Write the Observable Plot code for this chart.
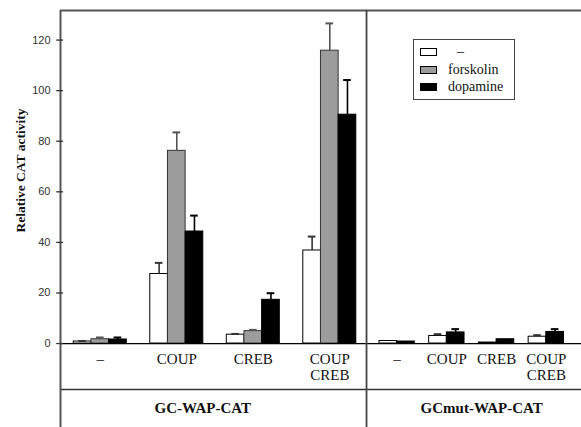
<!DOCTYPE html>
<html>
<head>
<meta charset="utf-8">
<script src="https://cdn.jsdelivr.net/npm/d3@7"></script>
<script src="https://cdn.jsdelivr.net/npm/@observablehq/plot@0.6"></script>
<style>
  html, body { margin: 0; padding: 0; background: #fff; }
  #wrap { position: relative; width: 581px; height: 427px; }
  #legend { position: absolute; left: 413px; top: 39px; width: 100px; height: 59px;
    border: 1.5px solid #444; background: #fff; font-family: "Liberation Serif", "Times New Roman", serif; font-size: 14px; color: #111; }
  .row { position: absolute; left: 0; height: 17px; display: flex; align-items: center; }
  .sw { position: absolute; left: 6px; width: 15px; height: 6px; border: 1px solid #000; }
  .lb { position: absolute; left: 34px; white-space: nowrap; line-height: 17px; }
</style>
</head>
<body>
<div id="wrap"></div>
<script>
// ---- data ----
const categories = ["–", "COUP", "CREB", "COUP\nCREB"];
const constructs = ["GC-WAP-CAT", "GCmut-WAP-CAT"];
const treatments = ["–", "forskolin", "dopamine"];
const treatmentColors = ["#ffffff", "#9c9c9c", "#000000"];
const yTicks = [0, 20, 40, 60, 80, 100, 120];

// GC-WAP-CAT (means and standard errors)
const gcControl   = [0.8, 27.5, 3.5, 36.8];
const gcControlSE = [0.2, 4.4, 0.3, 5.5];
const gcForskolin   = [1.7, 76.2, 4.9, 115.8];
const gcForskolinSE = [0.7, 7.3, 0.5, 10.8];
const gcDopamine   = [1.6, 44.3, 17.3, 90.5];
const gcDopamineSE = [0.8, 6.3, 2.6, 13.7];

// GCmut-WAP-CAT (no forskolin)
const mutControl   = [1.0, 3.0, 0.4, 2.7];
const mutControlSE = [0.0, 0.7, 0.0, 0.6];
const mutDopamine   = [0.8, 4.4, 1.7, 4.6];
const mutDopamineSE = [0.0, 1.3, 0.0, 1.1];

// ---- layout (in group-slot units) ----
const leftStart = 0.52, leftStep = 1.0;
const rightStart = 4.40, rightStep = 0.65;
const divider = 4.0, xMax = 6.81;
const barW = 0.231;
const yMin = -33.2, yMax = 131.7;
const tableLine = -18.2;

const bars = [];
function addSeries(panel, vals, ses, tIdx, offset) {
  vals.forEach((v, i) => {
    const c = panel === 0 ? leftStart + i * leftStep : rightStart + i * rightStep;
    const cx = c + offset * barW;
    bars.push({x1: cx - barW / 2, x2: cx + barW / 2, cx, v, top: v + ses[i], se: ses[i], t: tIdx});
  });
}
addSeries(0, gcControl, gcControlSE, 0, -1);
addSeries(0, gcForskolin, gcForskolinSE, 1, 0);
addSeries(0, gcDopamine, gcDopamineSE, 2, 1);
addSeries(1, mutControl, mutControlSE, 0, -0.5);
addSeries(1, mutDopamine, mutDopamineSE, 2, 0.5);

const errBars = bars.filter(d => d.se > 0);
const errColor = ["#333", "#555", "#000"];

const catLabels = [];
categories.forEach((c, i) => {
  catLabels.push({x: leftStart + i * leftStep, text: c});
  catLabels.push({x: rightStart + i * rightStep, text: c});
});
const groupLabels = [
  {x: (0 + divider) / 2 - 0.14, text: constructs[0]},
  {x: (divider + xMax) / 2 + 0.1, text: constructs[1]}
];

const serif = '"Liberation Serif", "Times New Roman", serif';

const chart = Plot.plot({
  width: 581,
  height: 427,
  marginLeft: 60,
  marginRight: 0,
  marginTop: 10,
  marginBottom: 0,
  style: {background: "#fff", overflow: "visible"},
  x: {type: "linear", domain: [0, xMax], axis: null},
  y: {type: "linear", domain: [yMin, yMax], axis: null},
  marks: [
    // bars
    Plot.rectY(bars, {x1: "x1", x2: "x2", y1: 0, y2: "v",
      fill: d => treatmentColors[d.t], stroke: d => d.t === 1 ? "#333" : "#000", strokeWidth: 1}),
    // error bars
    Plot.ruleX(errBars, {x: "cx", y1: "v", y2: "top", stroke: d => errColor[d.t], strokeWidth: 1.6}),
    Plot.ruleY(errBars, {y: "top", x1: d => d.cx - 0.05, x2: d => d.cx + 0.05, stroke: d => errColor[d.t], strokeWidth: 2}),
    // baseline
    Plot.ruleY([0], {x1: 0, x2: xMax, stroke: "#000", strokeWidth: 1.3}),
    // frame / table lines
    Plot.ruleY([yMax], {x1: 0, x2: xMax, stroke: "#555", strokeWidth: 2}),
    Plot.ruleY([tableLine], {x1: 0, x2: xMax, stroke: "#333", strokeWidth: 1.6}),
    Plot.ruleX([0], {y1: yMin, y2: yMax, stroke: "#555", strokeWidth: 2}),
    Plot.ruleX([divider], {y1: yMin, y2: yMax, stroke: "#444", strokeWidth: 1.8}),
    // y ticks crossing the axis
    Plot.ruleY(yTicks, {x1: -0.05, x2: 0.04, stroke: "#333", strokeWidth: 1.3}),
    Plot.axisY({ticks: yTicks, tickSize: 0, tickPadding: 10, fontSize: 11,
      fontFamily: '"Liberation Sans", Arial, sans-serif', fill: "#333"}),
    // y title
    Plot.text(["Relative CAT activity"], {x: -0.525, y: 68.4, rotate: -90, fontSize: 13.5,
      fontWeight: "bold", fontFamily: serif, fill: "#111"}),
    // category labels
    Plot.text(catLabels, {x: "x", y: -3.6, text: "text", lineAnchor: "top", lineHeight: 1.07,
      fontSize: 15, fontFamily: serif, fill: "#111"}),
    // construct labels
    Plot.text(groupLabels, {x: "x", y: -25.7, text: "text", fontSize: 15, fontWeight: "bold",
      fontFamily: serif, fill: "#111"})
  ]
});

const wrap = document.getElementById("wrap");
wrap.appendChild(chart);

// legend
const legend = document.createElement("div");
legend.id = "legend";
treatments.forEach((t, i) => {
  const row = document.createElement("div");
  row.className = "row";
  row.style.top = (3 + i * 17.5) + "px";
  row.style.width = "100%";
  const sw = document.createElement("div");
  sw.className = "sw";
  sw.style.background = treatmentColors[i];
  sw.style.top = "5px";
  const lb = document.createElement("div");
  lb.className = "lb";
  lb.textContent = t;
  if (i === 0) lb.style.left = "43px";
  row.appendChild(sw);
  row.appendChild(lb);
  legend.appendChild(row);
});
wrap.appendChild(legend);
</script>
</body>
</html>
